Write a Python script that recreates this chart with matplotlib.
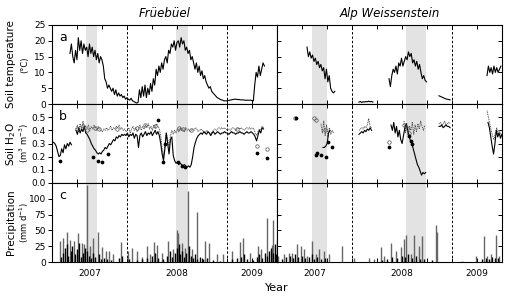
import numpy as np
import matplotlib.pyplot as plt
import matplotlib.transforms as mtransforms

# ---- data (x in decimal years, series sampled every 1/72 yr) ----
STEP = 1 / 72.

# panel a: soil temperature
t_fru_start = 2007.43
t_fru = [16, 19, 15, 13, 17, 14,
         21, 17, 20, 16, 19, 17,
         18, 15, 19, 16, 18, 15,
         17, 14, 16, 13, 15, 14,
         12, 8, 7, 5, 6, 5,
         4, 5, 3, 4.5, 2.5, 3.5,
         2.5, 3, 2, 2.5, 1.5, 2,
         1.5, 1.2, 1.8, 1.0, 0.8, 0.5,
         0.3, 0.5, 4.5, 2, 5.5, 2.5,
         6, 2, 5, 3, 6.5, 4,
         8, 6, 11, 9, 12, 10,
         13, 11, 14, 15, 13, 17,
         16, 19, 18, 20, 17, 19.5,
         20, 18, 21, 19, 20, 17,
         18, 16, 17, 14, 15, 13,
         11, 13, 10, 12, 9, 10.5,
         8, 9, 7, 6, 5, 5.5,
         4, 3.5, 3, 2.5, 2, 1.8,
         1.5, 1.3, 1.2, 1.0, 1.0, 1.0,
         1.1, 1.2, 1.3, 1.4, 1.5, 1.5,
         1.5, 1.4, 1.4, 1.3, 1.3, 1.3,
         1.2, 1.2, 1.2, 1.2, 1.2, 1.1,
         1.0, 6, 10, 8.5, 12, 9,
         11, 13, 12]

t_alp_starts = [2007.55, 2008.07, 2008.37, 2008.87, 2009.35]
t_alp_1 = [18, 15, 16.5, 14.5, 15.5, 13.5, 14.5, 12.5, 13.5, 11.5, 12.5,
           10.5, 11.5, 8, 11, 7, 9, 5, 4, 3.5, 4]
t_alp_2 = [0.6, 0.8, 0.5, 0.7, 0.6, 0.8, 0.7, 0.9, 0.7, 0.8, 0.6]
t_alp_3 = [8, 5.5, 9, 11, 10, 12, 9.5, 13, 12, 14.5, 12, 13.5, 15, 14,
           16.5, 15, 16, 13, 14, 12, 13.5, 11, 12.5, 10, 8, 9, 7.5, 7]
t_alp_4 = [2.6, 2.4, 2.2, 2.0, 1.8, 1.6, 1.5, 1.4, 1.3]
t_alp_5 = [9, 12, 10, 11.5, 9.5, 12, 10, 11.5, 10, 11, 12]

# panel b: soil water content
w_fru_pre_start = 2007.25
w_fru_pre = [0.31, 0.31, 0.30, 0.28, 0.24, 0.20, 0.21, 0.26, 0.23, 0.29,
             0.26, 0.30, 0.28, 0.31, 0.29]
w_fru_start = 2007.49
w_fru_solid = [0.40, 0.37, 0.42, 0.38, 0.41, 0.39, 0.43, 0.38,
               0.37, 0.35, 0.33, 0.30, 0.28, 0.26, 0.25, 0.23, 0.22, 0.23, 0.22,
               0.24, 0.25, 0.27, 0.26, 0.28, 0.30, 0.29, 0.31, 0.33, 0.32, 0.35,
               0.34, 0.36, 0.35, 0.37, 0.36, 0.37, 0.36,
               0.38, 0.35, 0.37, 0.36, 0.38, 0.34, 0.37, 0.36, 0.27, 0.36, 0.38,
               0.35, 0.37, 0.39, 0.36, 0.38, 0.37, 0.39, 0.36, 0.38, 0.40, 0.37,
               0.39, 0.36,
               0.30, 0.22, 0.17, 0.26, 0.38, 0.30, 0.22, 0.33, 0.35,
               0.21, 0.17, 0.15, 0.16, 0.14, 0.15, 0.14, 0.13, 0.14, 0.13, 0.12,
               0.13, 0.12, 0.14,
               0.20, 0.27, 0.31, 0.34, 0.36, 0.37, 0.38,
               0.37, 0.39, 0.38, 0.37, 0.39, 0.38, 0.36, 0.38, 0.39, 0.37, 0.38,
               0.39, 0.38, 0.37, 0.38, 0.38, 0.39, 0.38,
               0.38, 0.37, 0.38, 0.39, 0.38, 0.38, 0.37, 0.38, 0.38, 0.39, 0.38,
               0.38, 0.37, 0.38, 0.39, 0.38, 0.38, 0.39, 0.38, 0.37, 0.35, 0.32,
               0.36, 0.40, 0.38, 0.42, 0.41]
w_fru_dot = [0.41, 0.44, 0.39, 0.45, 0.40, 0.47, 0.41, 0.43,
             0.42, 0.44, 0.40, 0.43, 0.41, 0.44, 0.42, 0.40, 0.43, 0.41, 0.40,
             0.39, 0.41, 0.40, 0.42, 0.40, 0.41, 0.43, 0.40, 0.42, 0.41, 0.43,
             0.42, 0.44, 0.41, 0.42, 0.40, 0.41, 0.39,
             0.40, 0.42, 0.38, 0.41, 0.43, 0.40, 0.42, 0.39, 0.41, 0.44, 0.40,
             0.43, 0.41, 0.44, 0.42, 0.45, 0.41, 0.43, 0.40, 0.44, 0.42, 0.45,
             0.43, 0.41,
             0.36, 0.26, 0.20, 0.30, 0.38, 0.33, 0.28, 0.36, 0.40,
             0.37, 0.40, 0.38, 0.41, 0.39, 0.42, 0.40, 0.41, 0.39, 0.42, 0.40,
             0.41, 0.39, 0.40,
             0.41, 0.40, 0.42, 0.41, 0.39, 0.40, 0.41,
             0.40, 0.39, 0.38, 0.40, 0.39, 0.38, 0.37, 0.39, 0.40, 0.41, 0.40,
             0.41, 0.42, 0.41, 0.42, 0.41, 0.42, 0.41,
             0.40, 0.41, 0.40, 0.41, 0.42, 0.41, 0.40, 0.41, 0.42, 0.41, 0.42,
             0.41, 0.40, 0.41, 0.42, 0.41, 0.42, 0.41, 0.42, 0.41, 0.38, 0.36,
             0.39, 0.41, 0.40, 0.43, 0.42]
w_fru_open_x = [2007.50, 2007.56, 2007.60, 2007.68, 2007.72, 2007.90, 2008.10,
                2008.18, 2008.28, 2008.52, 2008.56, 2008.64, 2009.10, 2009.297,
                2009.397]
w_fru_open_y = [0.41, 0.43, 0.40, 0.42, 0.41, 0.41, 0.42, 0.44, 0.43, 0.42,
                0.41, 0.40, 0.41, 0.28, 0.26]
w_fru_fill_x = [2007.33, 2007.663, 2007.713, 2007.747, 2007.813, 2008.313,
                2008.363, 2008.38, 2008.513, 2008.547, 2008.58, 2009.297, 2009.397]
w_fru_fill_y = [0.17, 0.195, 0.17, 0.16, 0.22, 0.48, 0.16, 0.30, 0.16, 0.13,
                0.125, 0.23, 0.19]

w_alp_solid_starts = [2007.71, 2008.07, 2008.39, 2008.87, 2009.36]
w_alp_solid = [
    [0.27, 0.27, 0.28, 0.30, 0.38, 0.40],
    [0.37, 0.38, 0.39, 0.38, 0.40, 0.39, 0.41, 0.40, 0.42, 0.40],
    [0.44, 0.40, 0.46, 0.38, 0.43, 0.35, 0.40, 0.33, 0.30, 0.36, 0.42, 0.45,
     0.40, 0.36, 0.32, 0.30, 0.26, 0.22, 0.18, 0.14, 0.12, 0.09, 0.06, 0.08,
     0.07, 0.08],
    [0.43, 0.43, 0.44, 0.42, 0.43, 0.44, 0.43, 0.43, 0.42],
    [0.46, 0.42, 0.35, 0.28, 0.22, 0.30, 0.40, 0.35, 0.38, 0.34, 0.37],
]
w_alp_dot_starts = [2007.69, 2008.07, 2008.52, 2008.87, 2009.35]
w_alp_dot = [
    [0.45, 0.38, 0.47, 0.36, 0.44, 0.35, 0.42, 0.37, 0.40, 0.38],
    [0.40, 0.41, 0.42, 0.41, 0.43, 0.42, 0.44, 0.49, 0.43, 0.42],
    [0.47, 0.38, 0.45, 0.36, 0.43, 0.40, 0.46, 0.37, 0.44, 0.39, 0.45, 0.41,
     0.47, 0.43, 0.40, 0.44],
    [0.45, 0.46, 0.44, 0.45, 0.47, 0.44, 0.45, 0.46, 0.45],
    [0.55, 0.50, 0.45, 0.40, 0.36, 0.33, 0.38, 0.42, 0.37, 0.40, 0.36],
]
w_alp_open_x = [2007.43, 2007.62, 2007.64, 2007.73, 2008.37, 2008.52, 2008.55,
                2008.57]
w_alp_open_y = [0.49, 0.49, 0.48, 0.40, 0.31, 0.44, 0.42, 0.38]
w_alp_fill_x = [2007.437, 2007.637, 2007.653, 2007.687, 2007.737, 2007.76,
                2007.80, 2008.37, 2008.57, 2008.59, 2008.60]
w_alp_fill_y = [0.494, 0.21, 0.23, 0.21, 0.195, 0.31, 0.27, 0.275, 0.36, 0.32,
                0.30]

# panel c: precipitation (gray = tall events, black = dense small events)
p_fru_gray_x = [2007.33, 2007.363, 2007.397, 2007.43, 2007.47, 2007.513,
                2007.547, 2007.573, 2007.597, 2007.63, 2007.657, 2007.713,
                2007.753, 2007.79, 2007.823, 2007.863, 2007.937, 2008.013,
                2008.047, 2008.103, 2008.147, 2008.197, 2008.23, 2008.27,
                2008.297, 2008.347, 2008.413, 2008.463, 2008.497, 2008.513,
                2008.547, 2008.58, 2008.613, 2008.647, 2008.697, 2008.78,
                2008.823, 2008.897, 2008.963, 2009.047, 2009.13, 2009.163,
                2009.23, 2009.313, 2009.337, 2009.397, 2009.447, 2009.463,
                2009.497]
p_fru_gray_y = [33, 38, 48, 35, 33, 46, 30, 28, 122, 25, 38, 47, 24, 18, 18,
                12, 31, 17, 22, 17, 8, 25, 12, 31, 27, 14, 33, 20, 50, 46, 30,
                22, 112, 20, 79, 34, 30, 13, 13, 18, 31, 38, 15, 25, 20, 70,
                27, 67, 35]
p_fru_black_x = [2007.34, 2007.36, 2007.38, 2007.40, 2007.41, 2007.44, 2007.45,
                 2007.48, 2007.50, 2007.52, 2007.54, 2007.56, 2007.58, 2007.60,
                 2007.62, 2007.64, 2007.66, 2007.68, 2007.72, 2007.74, 2007.77,
                 2007.80, 2007.84, 2007.92, 2007.95, 2008.02, 2008.10, 2008.15,
                 2008.20, 2008.25, 2008.28, 2008.31, 2008.36, 2008.40, 2008.43,
                 2008.45, 2008.48, 2008.50, 2008.52, 2008.53, 2008.55, 2008.57,
                 2008.59, 2008.62, 2008.64, 2008.66, 2008.68, 2008.70, 2008.73,
                 2008.76, 2008.80, 2008.86, 2008.93, 2009.05, 2009.10, 2009.14,
                 2009.17, 2009.20, 2009.26, 2009.30, 2009.32, 2009.35, 2009.38,
                 2009.40, 2009.42, 2009.44, 2009.46, 2009.48, 2009.49]
p_fru_black_y = [8, 15, 22, 28, 10, 18, 25, 12, 20, 30, 8, 15, 22, 18, 10, 6,
                 14, 8, 12, 5, 7, 4, 3, 6, 10, 5, 3, 4, 7, 10, 14, 6, 5, 10,
                 18, 8, 15, 22, 28, 12, 18, 8, 15, 25, 10, 6, 12, 5, 8, 4, 6,
                 3, 2, 4, 6, 8, 12, 5, 3, 8, 12, 6, 15, 10, 18, 22, 14, 28, 12]

p_alp_gray_x = [2007.255, 2007.32, 2007.37, 2007.403, 2007.453, 2007.487,
                2007.52, 2007.553, 2007.603, 2007.637, 2007.67, 2007.72,
                2007.77, 2007.903, 2008.02, 2008.17, 2008.22, 2008.287, 2008.32,
                2008.387, 2008.437, 2008.487, 2008.52, 2008.537, 2008.587,
                2008.62, 2008.67, 2008.703, 2008.837, 2008.853, 2009.103,
                2009.237, 2009.32, 2009.353, 2009.387, 2009.437, 2009.47]
p_alp_gray_y = [10, 12, 14, 14, 28, 25, 20, 10, 33, 12, 21, 17, 13, 25, 7, 6,
                4, 23, 10, 30, 17, 24, 36, 43, 12, 43, 25, 41, 59, 47, 2, 10,
                41, 9, 12, 43, 10]
p_alp_black_x = [2007.30, 2007.34, 2007.38, 2007.41, 2007.43, 2007.46, 2007.50,
                 2007.53, 2007.57, 2007.60, 2007.62, 2007.65, 2007.69, 2007.73,
                 2008.30, 2008.35, 2008.40, 2008.45, 2008.50, 2008.53, 2008.56,
                 2008.60, 2008.64, 2008.68, 2008.72, 2008.80, 2009.30, 2009.34,
                 2009.37, 2009.40, 2009.43, 2009.46]
p_alp_black_y = [5, 8, 10, 6, 12, 8, 10, 6, 8, 12, 5, 8, 4, 6, 3, 5, 8, 6, 10,
                 8, 12, 6, 9, 5, 4, 3, 4, 6, 5, 8, 6, 7]

shade_fru = [(2007.59, 2007.70), (2008.49, 2008.61)]
shade_alp = [(2007.60, 2007.75), (2008.54, 2008.74)]

year_lines = [2008.0, 2009.0]
year_labels = ['2007', '2008', '2009']
year_label_pos = [2007.625, 2008.5, 2009.25]


def xs(start, vals):
    return start + np.arange(len(vals)) * STEP


fig = plt.figure(figsize=(5.08, 2.96), dpi=100)

W = 225 / 508.
H = 79 / 296.
lefts = [52 / 508., 277 / 508.]
bottoms = [1 - 104 / 296., 1 - 183 / 296., 1 - 262 / 296.]

axes = [[fig.add_axes([l, b, W, H]) for l in lefts] for b in bottoms]

ylims = [(0, 25), (0, 0.6), (0, 125)]
yticks = [[0, 5, 10, 15, 20, 25], [0, 0.1, 0.2, 0.3, 0.4, 0.5],
          [0, 25, 50, 75, 100]]
yfmt = [lambda v: '%d' % v, lambda v: '%.1f' % v, lambda v: '%d' % v]
quarters = np.arange(2007.25, 2009.51, 0.25)

for r in range(3):
    for c in range(2):
        ax = axes[r][c]
        ax.set_xlim(2007.25, 2009.5)
        ax.set_ylim(*ylims[r])
        for s in (shade_fru if c == 0 else shade_alp):
            ax.axvspan(s[0], s[1], color='#e3e3e3', lw=0, zorder=0)
        for yl in year_lines:
            ax.axvline(yl, color='k', ls=(0, (2.5, 2)), lw=0.7, zorder=1)
        ax.set_xticks(quarters)
        ax.set_xticklabels([])
        ax.tick_params(axis='x', which='major', direction='in', length=3,
                       width=0.7, top=True, bottom=True)
        if r == 2:
            tr = mtransforms.blended_transform_factory(ax.transData,
                                                       ax.transAxes)
            for xp, lab in zip(year_label_pos, year_labels):
                ax.text(xp, -0.09, lab, transform=tr, ha='center', va='top',
                        fontsize=6.5)
        ax.set_yticks(yticks[r])
        if c == 0:
            ax.set_yticklabels([yfmt[r](v) for v in yticks[r]])
            ax.tick_params(axis='y', direction='out', length=3, width=0.7,
                           labelsize=6.5, pad=1.5)
        else:
            ax.set_yticklabels([])
            ax.tick_params(axis='y', direction='in', length=3, width=0.7,
                           left=True, right=True)
        for sp in ax.spines.values():
            sp.set_linewidth(0.8)

# panel a
a0, a1 = axes[0]
a0.plot(xs(t_fru_start, t_fru), t_fru, color='k', lw=0.8)
for st, v in zip(t_alp_starts, [t_alp_1, t_alp_2, t_alp_3, t_alp_4, t_alp_5]):
    a1.plot(xs(st, v), v, color='k', lw=0.8)

# panel b
b0, b1 = axes[1]
b0.plot(xs(w_fru_pre_start, w_fru_pre), w_fru_pre, color='k', lw=0.8)
b0.plot(xs(w_fru_start, w_fru_dot), w_fru_dot, color='0.3', lw=0.7,
        ls=(0, (1, 0.8)))
b0.plot(xs(w_fru_start, w_fru_solid), w_fru_solid, color='k', lw=0.8)
b0.plot(w_fru_open_x, w_fru_open_y, 'o', mfc='none', mec='0.3', ms=2.5, mew=0.5)
b0.plot(w_fru_fill_x, w_fru_fill_y, 'o', color='k', ms=1.7)
for st, v in zip(w_alp_dot_starts, w_alp_dot):
    b1.plot(xs(st, v), v, color='0.3', lw=0.7, ls=(0, (1, 0.8)))
for st, v in zip(w_alp_solid_starts, w_alp_solid):
    b1.plot(xs(st, v), v, color='k', lw=0.8)
b1.plot(w_alp_open_x, w_alp_open_y, 'o', mfc='none', mec='0.3', ms=2.5, mew=0.5)
b1.plot(w_alp_fill_x, w_alp_fill_y, 'o', color='k', ms=1.7)

# panel c
c0, c1 = axes[2]
c0.vlines(p_fru_gray_x, 0, p_fru_gray_y, color='0.4', lw=1.0)
c0.vlines(p_fru_black_x, 0, p_fru_black_y, color='k', lw=1.0)
c1.vlines(p_alp_gray_x, 0, p_alp_gray_y, color='0.4', lw=1.0)
c1.vlines(p_alp_black_x, 0, p_alp_black_y, color='k', lw=1.0)

for ax, letter in zip([a0, b0, c0], 'abc'):
    ax.text(0.03, 0.93, letter, transform=ax.transAxes, ha='left', va='top',
            fontsize=9)

fig.text(lefts[0] + W / 2, 0.955, 'Früebüel', ha='center', va='center',
         fontsize=8.5, style='italic')
fig.text(lefts[1] + W / 2, 0.955, 'Alp Weissenstein', ha='center',
         va='center', fontsize=8.5, style='italic')

ylab = [('Soil temperature', '(°C)'),
        ('Soil H$_2$O', '(m$^3$ m$^{-3}$)'),
        ('Precipitation', '(mm d$^{-1}$)')]
for b, (main, unit) in zip(bottoms, ylab):
    yc = b + H / 2
    fig.text(0.022, yc, main, rotation=90, ha='center', va='center',
             fontsize=7.5)
    fig.text(0.048, yc, unit, rotation=90, ha='center', va='center',
             fontsize=6)

fig.text(277 / 508., 0.027, 'Year', ha='center', va='center', fontsize=8)

fig.savefig('out.png', dpi=100)
